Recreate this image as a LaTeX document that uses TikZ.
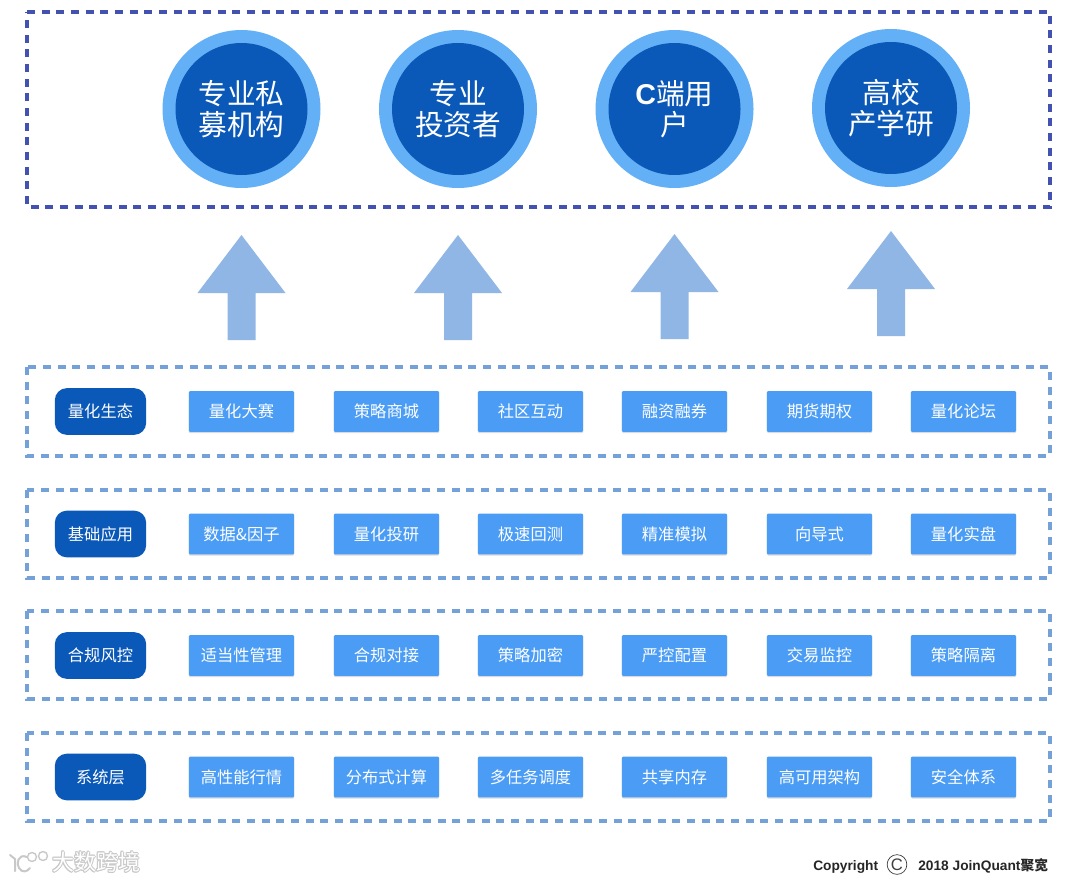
\documentclass[tikz,border=0pt]{standalone}
\usepackage{fontspec}
\setmainfont{Liberation Sans}
\newfontfamily\cjk{Noto Sans CJK SC}
\usetikzlibrary{shadows}
\definecolor{framedark}{HTML}{4351B0}
\definecolor{framelight}{HTML}{74A2D8}
\definecolor{ringblue}{HTML}{64B0F6}
\definecolor{corblue}{HTML}{0A58B8}
\definecolor{arrowblue}{HTML}{90B6E6}
\definecolor{cellblue}{HTML}{4A9CF5}
\definecolor{wmgray}{HTML}{C8C8C8}
\tikzset{
  x=0.75pt,y=-0.75pt,
  topframe/.style={draw=framedark,line width=2.8pt,dash pattern=on 6pt off 5pt},
  layerframe/.style={draw=framelight,line width=2.5pt,dash pattern=on 6pt off 5pt},
  ring/.style={circle,fill=ringblue,minimum size=118.5pt,inner sep=0pt},
  core/.style={circle,fill=corblue,minimum size=99pt,inner sep=0pt,text=white,font=\fontsize{21.5pt}{23.5pt}\selectfont\cjk,align=center},
  uparrow/.style={fill=arrowblue},
  pill/.style={rounded corners=9pt,fill=corblue,minimum width=68.5pt,minimum height=35pt,inner sep=0pt,text=white,font=\fontsize{12.2pt}{14pt}\selectfont\cjk},
  cell/.style={fill=cellblue,rounded corners=0.8pt,minimum width=78.8pt,minimum height=30.5pt,inner sep=0pt,text=white,font=\fontsize{12.2pt}{14pt}\selectfont\cjk,drop shadow={shadow xshift=0pt,shadow yshift=-0.9pt,fill=black!28}},
  foot/.style={inner sep=0pt,font=\fontsize{10.3pt}{12pt}\selectfont\bfseries,text=black!85},
  wm/.style={inner sep=0pt,text=white,font=\fontsize{16.5pt}{18pt}\selectfont\cjk}
}
\begin{document}
\begin{tikzpicture}
\useasboundingbox (0,0) rectangle (1080,882);
\fill[white] (0,0) rectangle (1080,882);
% top frame
\draw[topframe] (27,12) -- (1050,12) -- (1050,207) -- (27,207) -- cycle;
% audience circles
\node[ring] (r1) at (241.5,109) {};
\node[core] (c1) at (241.5,109) {专业私\\募机构};
\node[ring] (r2) at (458,109) {};
\node[core] (c2) at (458,109) {专业\\投资者};
\node[ring] (r3) at (674.5,109) {};
\node[core] (c3) at (674.5,109) {{\rmfamily\bfseries\fontspec{Liberation Sans}C}端用\\户};
\node[ring] (r4) at (891,108) {};
\node[core] (c4) at (891,108) {高校\\产学研};
% arrows
\foreach \cx/\ty/\by in {241.5/235/340,458/235/340,674.5/234/339,891/231/336}{
  \fill[uparrow] (\cx,\ty) -- ({\cx+44},{\ty+58}) -- ({\cx+14},{\ty+58}) -- ({\cx+14},\by)
    -- ({\cx-14},\by) -- ({\cx-14},{\ty+58}) -- ({\cx-44},{\ty+58}) -- cycle;
}
% layer frames
\draw[layerframe] (27,367) -- (27,456) -- (1050,456) -- (1050,367) -- cycle;
\draw[layerframe] (27,490) -- (27,578) -- (1050,578) -- (1050,490) -- cycle;
\draw[layerframe] (27,611) -- (27,699) -- (1050,699) -- (1050,611) -- cycle;
\draw[layerframe] (27,733) -- (27,821) -- (1050,821) -- (1050,733) -- cycle;
% row 1
\node[pill] (p1) at (100.5,411.5) {量化生态};
\node[cell] (a1) at (241.5,411.5) {量化大赛};
\node[cell] (a2) at (386.5,411.5) {策略商城};
\node[cell] (a3) at (530.5,411.5) {社区互动};
\node[cell] (a4) at (674.5,411.5) {融资融券};
\node[cell] (a5) at (819.5,411.5) {期货期权};
\node[cell] (a6) at (963.5,411.5) {量化论坛};
% row 2
\node[pill] (p2) at (100.5,534) {基础应用};
\node[cell] (b1) at (241.5,534) {数据\&因子};
\node[cell] (b2) at (386.5,534) {量化投研};
\node[cell] (b3) at (530.5,534) {极速回测};
\node[cell] (b4) at (674.5,534) {精准模拟};
\node[cell] (b5) at (819.5,534) {向导式};
\node[cell] (b6) at (963.5,534) {量化实盘};
% row 3
\node[pill] (p3) at (100.5,655.5) {合规风控};
\node[cell] (d1) at (241.5,655.5) {适当性管理};
\node[cell] (d2) at (386.5,655.5) {合规对接};
\node[cell] (d3) at (530.5,655.5) {策略加密};
\node[cell] (d4) at (674.5,655.5) {严控配置};
\node[cell] (d5) at (819.5,655.5) {交易监控};
\node[cell] (d6) at (963.5,655.5) {策略隔离};
% row 4
\node[pill] (p4) at (100.5,777) {系统层};
\node[cell] (e1) at (241.5,777) {高性能行情};
\node[cell] (e2) at (386.5,777) {分布式计算};
\node[cell] (e3) at (530.5,777) {多任务调度};
\node[cell] (e4) at (674.5,777) {共享内存};
\node[cell] (e5) at (819.5,777) {高可用架构};
\node[cell] (e6) at (963.5,777) {安全体系};
% copyright
\node[foot,anchor=west] (cr) at (813,866.5) {Copyright};
\node[circle,draw=black!80,line width=0.5pt,minimum size=14.8pt,inner sep=0pt,font=\fontsize{12.5pt}{13pt}\selectfont,text=black!75] (cc) at (897,864.5) {C};
\node[foot,anchor=west] (yr) at (918,865.5) {2018 JoinQuant{\cjk 聚宽}};
% watermark
\foreach \dx/\dy in {-1/0,1/0,0/-1,0/1,0.7/0.7,-0.7/-0.7,0.7/-0.7,-0.7/0.7}{
  \node[wm,text=wmgray,anchor=west] at ({52+\dx},{862+\dy}) {大数跨境};
}
\node[wm,anchor=west] (wmt) at (52,862) {大数跨境};
\draw[wmgray,line width=1.5pt,line cap=round] (10,855) -- (15,859) -- (15,871);
\draw[wmgray,line width=1.5pt,line cap=round] (27,857) .. controls (18,853) and (16,864) .. (19,868) .. controls (22,873) and (27,872) .. (30,868);
\draw[wmgray,line width=1pt] (32,857) circle[radius=4.5];
\draw[wmgray,line width=1pt] (43,856) circle[radius=4.5];
\end{tikzpicture}
\end{document}
